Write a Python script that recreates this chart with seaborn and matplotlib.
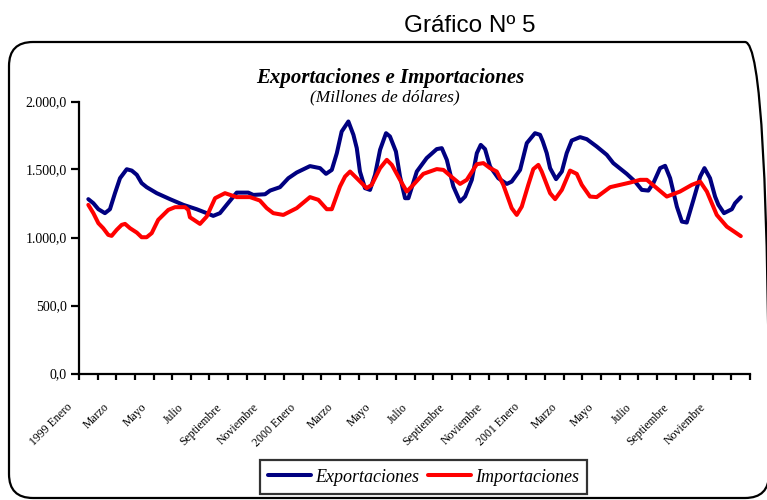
#!/usr/bin/env python3
"""
Exportaciones e Importaciones 1999-2001 (Gráfico Nº 5).
"""
import numpy as np
import pandas as pd
import seaborn as sns
import matplotlib
matplotlib.use("Agg")
import matplotlib.pyplot as plt
from matplotlib.patches import FancyBboxPatch
from matplotlib.transforms import IdentityTransform, ScaledTranslation
from matplotlib.ticker import FuncFormatter

# tiempo en meses desde enero 1999 (0 = 1999 Enero, 35 = 2001 Diciembre)
mes_exp = [0.0, 0.27, 0.54, 0.89, 1.16, 1.43, 1.70, 2.06, 2.33, 2.60, 2.86, 3.13,
           3.67, 4.38, 5.10, 5.81, 6.35, 6.70, 7.06, 7.42, 7.96, 8.58, 8.85, 9.48,
           9.75, 10.28, 10.73, 11.18, 11.89, 12.43, 12.75, 13.06, 13.33, 13.59,
           13.95, 14.22, 14.40, 14.57, 14.84, 15.11, 15.38, 15.65, 15.97, 16.18,
           16.50, 16.72, 16.99, 17.17, 17.62, 18.15, 18.69, 18.96, 19.23, 19.58,
           19.94, 20.21, 20.57, 20.84, 21.05, 21.28, 21.55, 21.99, 22.45, 22.71,
           23.16, 23.52, 23.96, 24.23, 24.38, 24.59, 24.77, 25.09, 25.40, 25.66,
           25.93, 26.38, 26.74, 27.27, 27.81, 28.16, 28.88, 29.33, 29.69, 30.04,
           30.31, 30.67, 30.94, 31.21, 31.57, 31.84, 32.10, 32.46, 32.82, 33.05,
           33.35, 33.62, 33.80, 34.10, 34.52, 34.69, 35.0]
exportaciones = [1282, 1252, 1208, 1179, 1208, 1326, 1436, 1502, 1492, 1461, 1400, 1370,
                 1326, 1282, 1240, 1208, 1179, 1159, 1179, 1240, 1330, 1330, 1313, 1318,
                 1345, 1370, 1436, 1478, 1525, 1510, 1468, 1497, 1620, 1779,
                 1853, 1755, 1657, 1485, 1363, 1350, 1461, 1645, 1767, 1743,
                 1632, 1448, 1289, 1289, 1485, 1584, 1650, 1657, 1571, 1375,
                 1264, 1301, 1424, 1620, 1681, 1650, 1522, 1436, 1394, 1411,
                 1497, 1694, 1767, 1755, 1706, 1620, 1510, 1429, 1485, 1620,
                 1713, 1738, 1723, 1669, 1608, 1547, 1468, 1411, 1350, 1345,
                 1400, 1510, 1527, 1436, 1227, 1117, 1110, 1277, 1448, 1510,
                 1436, 1301, 1240, 1179, 1208, 1252, 1297]

mes_imp = [0.0, 0.27, 0.54, 0.80, 1.07, 1.25, 1.52, 1.79, 1.97, 2.24, 2.60, 2.86,
           3.13, 3.40, 3.75, 4.29, 4.65, 5.19, 5.36, 5.45, 5.99, 6.35, 6.80, 7.33,
           7.96, 8.67, 9.20, 9.57, 9.92, 10.46, 11.18, 11.89, 12.34, 12.79, 13.06,
           13.50, 13.77, 14.04, 14.40, 14.93, 15.20, 15.65, 16.01, 16.28, 16.72,
           17.08, 17.43, 17.97, 18.69, 19.05, 19.50, 19.94, 20.30, 20.84, 21.19,
           21.55, 21.91, 22.26, 22.71, 22.98, 23.25, 23.60, 23.87, 24.14, 24.32,
           24.77, 25.04, 25.40, 25.84, 26.20, 26.47, 26.91, 27.27, 27.99, 29.06,
           29.60, 29.96, 30.49, 31.03, 31.74, 32.37, 32.82, 33.18, 33.71, 34.25, 35.0]
importaciones = [1240, 1179, 1105, 1068, 1019, 1012, 1056, 1093, 1100, 1068, 1036, 1002,
                 1002, 1032, 1130, 1203, 1223, 1223, 1203, 1149, 1100, 1154, 1289, 1326,
                 1297, 1297, 1272, 1216, 1179, 1166, 1216, 1297, 1277, 1208, 1208,
                 1375, 1448, 1485, 1436, 1363, 1387, 1510, 1571, 1534, 1424,
                 1338, 1387, 1468, 1503, 1497, 1444, 1394, 1424, 1539, 1547,
                 1510, 1485, 1387, 1216, 1166, 1227, 1387, 1503, 1534, 1485,
                 1326, 1282, 1350, 1492, 1468, 1387, 1301, 1297, 1370, 1404,
                 1424, 1424, 1363, 1301, 1338, 1387, 1411, 1338, 1166, 1080, 1010]

etiquetas = ["1999 Enero", "Marzo", "Mayo", "Julio", "Septiembre", "Noviembre",
             "2000 Enero", "Marzo", "Mayo", "Julio", "Septiembre", "Noviembre",
             "2001 Enero", "Marzo", "Mayo", "Julio", "Septiembre", "Noviembre"]
n_meses = 36

df = pd.concat([
    pd.DataFrame({"mes": mes_exp, "valor": exportaciones, "serie": "Exportaciones"}),
    pd.DataFrame({"mes": mes_imp, "valor": importaciones, "serie": "Importaciones"}),
])

sns.set_style("white")
plt.rcParams["font.family"] = ["Liberation Serif", "DejaVu Serif"]
plt.rcParams["text.color"] = "black"
plt.rcParams["xtick.color"] = "black"
plt.rcParams["ytick.color"] = "black"

fig = plt.figure(figsize=(7.67, 5.0), dpi=100)
ax = fig.add_axes([0.103, 0.253, 0.875, 0.544])

sns.lineplot(data=df, x="mes", y="valor", hue="serie", estimator=None,
             palette={"Exportaciones": "#000080", "Importaciones": "#FF0000"},
             linewidth=2.9, ax=ax)

ax.set_xlim(-0.5, n_meses - 0.5)
ax.set_ylim(0, 2000)
ax.set_xlabel("")
ax.set_ylabel("")
for s in ["top", "right"]:
    ax.spines[s].set_visible(False)
for s in ["left", "bottom"]:
    ax.spines[s].set_color("black")
    ax.spines[s].set_linewidth(1.6)

ax.set_yticks([0, 500, 1000, 1500, 2000])
ax.yaxis.set_major_formatter(FuncFormatter(
    lambda v, p: f"{v:,.1f}".replace(",", "X").replace(".", ",").replace("X", ".")))
ax.tick_params(axis="y", direction="out", length=6, width=1.6, color="black",
               labelcolor="black", labelsize=10, pad=3, left=True)

ax.set_xticks(np.arange(0, n_meses, 2))
ax.set_xticklabels(etiquetas, rotation=45, ha="right", va="center",
                   rotation_mode="anchor", fontsize=8.5, color="black")
ax.set_xticks(np.arange(-0.5, n_meses + 0.5, 1), minor=True)
ax.tick_params(axis="x", which="major", length=0, pad=23)
ax.tick_params(axis="x", which="minor", direction="out", length=4, width=1.6,
               color="black", bottom=True)
shift = ScaledTranslation(-13 / 72, 0, fig.dpi_scale_trans)
for lab in ax.get_xticklabels():
    lab.set_transform(lab.get_transform() + shift)

handles, labels = ax.get_legend_handles_labels()
ax.get_legend().remove()
leg = fig.legend(handles, labels, loc="center", bbox_to_anchor=(0.552, 0.046),
                 ncol=2, frameon=True, fancybox=False, edgecolor="black",
                 handlelength=2.4, handletextpad=0.2, columnspacing=0.5,
                 borderpad=0.45, prop={"family": "Liberation Serif",
                                       "style": "italic", "size": 13})
leg.get_frame().set_linewidth(1.6)
for line in leg.get_lines():
    line.set_linewidth(2.9)
for t in leg.get_texts():
    t.set_color("black")

fig.text(0.509, 0.833, "Exportaciones e Importaciones", ha="center", va="baseline",
         fontsize=15, fontweight="bold", fontstyle="italic", color="black")
fig.text(0.502, 0.797, "(Millones de dólares)", ha="center", va="baseline",
         fontsize=12.5, fontstyle="italic", color="black")
fig.text(0.612, 0.935, "Gráfico Nº 5", ha="center", va="baseline",
         fontsize=17.5, family="Liberation Sans", color="black")

marco = FancyBboxPatch((9, 2), 760, 456, boxstyle="round,pad=0,rounding_size=24",
                       transform=IdentityTransform(), facecolor="none",
                       edgecolor="black", linewidth=1.6, zorder=0)
fig.add_artist(marco)

fig.savefig("out.png", dpi=100)
plt.close(fig)
